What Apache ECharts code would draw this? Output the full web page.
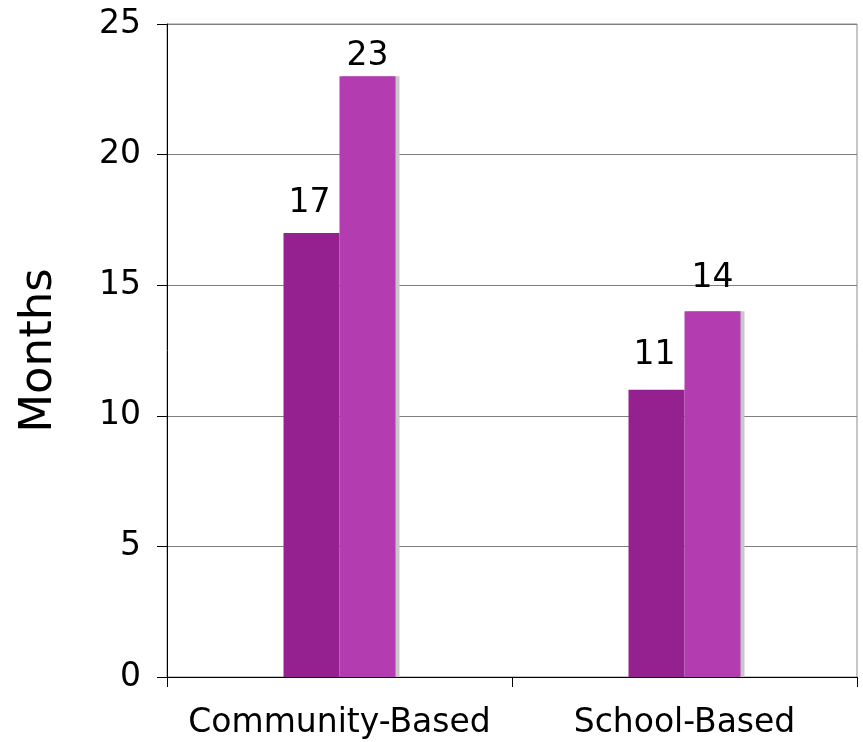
<!DOCTYPE html>
<html>
<head>
<meta charset="utf-8">
<script src="https://cdn.jsdelivr.net/npm/echarts@6/dist/echarts.min.js"></script>
<style>html,body{margin:0;padding:0;background:#fff}#c{width:863px;height:742px}</style>
</head>
<body>
<div id="c"></div>
<script>
const categories = ['Community-Based', 'School-Based'];
const seriesA = [17, 11];
const seriesB = [23, 14];
const yTicks = [0, 5, 10, 15, 20, 25];

const chart = echarts.init(document.getElementById('c'), null, {renderer: 'canvas'});
const font = 'DejaVu Sans, Verdana, sans-serif';
const distA = [13, 18];
const distB = [3, 16];
chart.setOption({
  animation: false,
  grid: {left: 167, right: 6, top: 24, bottom: 65, outerBoundsMode: 'none', containLabel: false,
         show: true, borderColor: '#8c8c8c', borderWidth: 1, backgroundColor: 'transparent'},
  xAxis: {
    type: 'category', data: categories,
    axisLine: {lineStyle: {color: '#000', width: 1}},
    axisTick: {show: true, interval: 0, length: 10, lineStyle: {color: '#000'}},
    axisLabel: {interval: 0, hideOverlap: false, fontFamily: font, fontSize: 33, color: '#000', margin: 30}
  },
  yAxis: {
    type: 'value', min: yTicks[0], max: yTicks[yTicks.length - 1], interval: 5,
    name: 'Months', nameLocation: 'middle', nameGap: 105,
    nameTextStyle: {fontFamily: font, fontSize: 45, color: '#000'},
    axisLine: {show: true, lineStyle: {color: '#000', width: 1}},
    axisTick: {show: true, length: 10, lineStyle: {color: '#000'}},
    axisLabel: {fontFamily: font, fontSize: 33, color: '#000', margin: 26},
    splitLine: {lineStyle: {color: '#7f7f7f', width: 1}}
  },
  series: [
    {type: 'bar', barWidth: 56, barGap: '0%',
     data: seriesA.map((v, i) => ({value: v, label: {distance: distA[i]}})),
     itemStyle: {color: '#95208F'},
     label: {show: true, position: 'top', fontFamily: font, fontSize: 33, color: '#000', offset: [-2, 0]}},
    {type: 'bar', barWidth: 56, barGap: '0%',
     data: seriesB.map((v, i) => ({value: v, label: {distance: distB[i]}})),
     itemStyle: {color: '#B23CB0', shadowColor: '#c8c8c8', shadowOffsetX: 4, shadowOffsetY: 0, shadowBlur: 0},
     label: {show: true, position: 'top', fontFamily: font, fontSize: 33, color: '#000', offset: [0, 0]}}
  ]
});
</script>
</body>
</html>
